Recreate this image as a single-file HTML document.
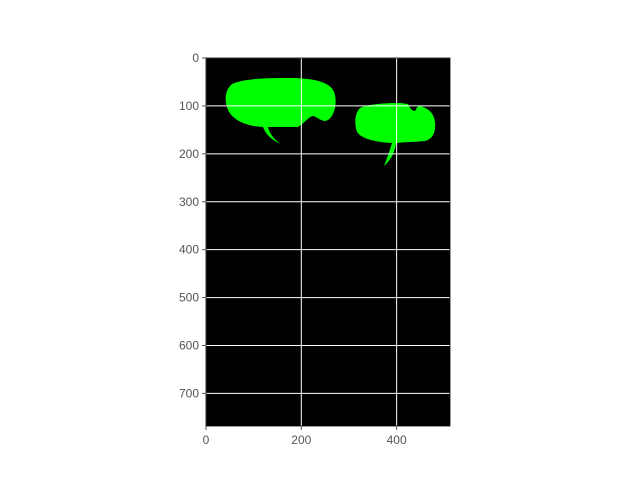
<!DOCTYPE html>
<html><head><meta charset="utf-8"><style>
body{margin:0;background:#fff;}
svg text{font-family:"Liberation Sans",sans-serif;font-size:12px;fill:#555;}
</style></head><body>
<svg width="640" height="480" xmlns="http://www.w3.org/2000/svg">
<rect x="206" y="58" width="244" height="368" fill="#000"/>
<g fill="#00ff00">
<path d="M232,84 C245,78 270,78 295,78 C320,79 333,84 335,95 C337,105 334,116 328,120 C323,123 319,118 313,116 C308,117 306,122 298,127 L268,127 C270,135 275,140 281,144 C272,140 266,135 263,127 C245,126 233,120 228,110 C224,100 225,90 232,84 Z"/>
<path d="M360,108 C368,104 385,103 400,103 L408,104 C410,108 412,111 415,111 C417,108 418,105 420,106 C428,108 434,113 435,122 C436,132 433,139 425,141 C415,142 405,142 396,143 C395,152 391,160 384,166 C387,158 390,150 392,143 C375,142 362,139 357,132 C354,123 355,113 360,108 Z"/>
</g>
<g id="grid"></g>
<rect x="206" y="58" width="244" height="368" fill="none" stroke="#000" stroke-width="0.8"/>
<g id="ticks"></g>
</svg>
<script>
const xTicks=[0,200,400];
const yTicks=[0,100,200,300,400,500,600,700];
const imgW=512, imgH=768;
const L=206,R=450,T=58,B=426;
const sx=v=>L+v*(R-L)/imgW;
const sy=v=>T+v*(B-T)/imgH;
const NS="http://www.w3.org/2000/svg";
const grid=document.getElementById('grid'), ticks=document.getElementById('ticks');
function mk(tag,attrs,parent){const e=document.createElementNS(NS,tag);for(const k in attrs)e.setAttribute(k,attrs[k]);parent.appendChild(e);return e;}
xTicks.forEach(v=>{
  const x=sx(v);
  const g=mk('line',{x1:x,x2:x,y1:T,y2:B,stroke:'#fff','stroke-width':1},grid);
  
  
  const t=mk('line',{x1:x,x2:x,y1:B,y2:B+4,stroke:'#555'},ticks);
  
  
  const l=mk('text',{x:x,y:B+18,'text-anchor':'middle'},ticks);l.textContent=v;
  
  
});
yTicks.forEach(v=>{
  const y=sy(v);
  const g=mk('line',{x1:L,x2:R,y1:y,y2:y,stroke:'#fff','stroke-width':1},grid);
  
  
  const t=mk('line',{x1:L-4,x2:L,y1:y,y2:y,stroke:'#555'},ticks);
  
  
  const l=mk('text',{x:L-7,y:y+4,'text-anchor':'end'},ticks);l.textContent=v;
  
  
});
</script>
</body></html>
